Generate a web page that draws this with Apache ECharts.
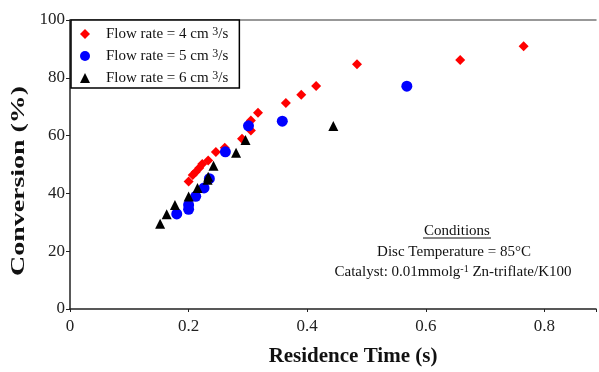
<!DOCTYPE html>
<html>
<head>
<meta charset="utf-8">
<script src="https://cdn.jsdelivr.net/npm/echarts@6/dist/echarts.min.js"></script>
<style>
  html, body { margin: 0; padding: 0; background: #fff; }
  #chart { width: 599px; height: 372px; }
</style>
</head>
<body>
<div id="chart"></div>
<script>
// data
var seriesNames = ['Flow rate = 4 cm3/s', 'Flow rate = 5 cm3/s', 'Flow rate = 6 cm3/s'];
var flowRates = ['4', '5', '6'];

// flow rate 4 (red diamonds)
var redX = [0.200, 0.207, 0.212, 0.218, 0.223, 0.233, 0.246, 0.261, 0.290, 0.305, 0.305, 0.317, 0.364, 0.390, 0.415, 0.484, 0.658, 0.765];
var redY = [44.1, 46.4, 47.4, 48.8, 50.2, 51.4, 54.3, 55.8, 58.9, 61.8, 65.2, 67.9, 71.3, 74.1, 77.2, 84.7, 86.2, 90.9];

// flow rate 5 (blue circles)
var blueX = [0.180, 0.200, 0.200, 0.212, 0.226, 0.235, 0.262, 0.301, 0.358, 0.568];
var blueY = [32.9, 36.0, 34.5, 39.0, 41.9, 45.1, 54.4, 63.4, 65.0, 77.1];

// flow rate 6 (black triangles)
var blackX = [0.152, 0.163, 0.177, 0.200, 0.215, 0.232, 0.233, 0.242, 0.280, 0.296, 0.444];
var blackY = [29.5, 32.8, 36.0, 38.9, 41.9, 44.7, 45.8, 49.6, 54.1, 58.5, 63.3];

var xTicks = [0, 0.2, 0.4, 0.6, 0.8];
var yTicks = [0, 20, 40, 60, 80, 100];

var serif = "'Liberation Serif', 'Times New Roman', serif";

function pairs (xs, ys) {
  return xs.map(function (x, i) { return [x, ys[i]]; });
}

var chart = echarts.init(document.getElementById('chart'));

var option = {
  animation: false,
  backgroundColor: '#fff',
  grid: { left: 70, right: 0, top: 20, bottom: 58 },
  legend: {
    orient: 'vertical',
    left: 71,
    top: 20,
    padding: [6, 11, 2, 9],
    itemGap: 6,
    itemWidth: 10,
    itemHeight: 10,
    borderColor: '#000',
    borderWidth: 1.5,
    backgroundColor: '#fff',
    data: seriesNames,
    formatter: function (name) {
      var i = seriesNames.indexOf(name);
      return 'Flow rate = ' + flowRates[i] + ' cm {sup|3}/s';
    },
    textStyle: {
      fontFamily: serif,
      fontSize: 15,
      color: '#111',
      lineHeight: 16,
      padding: [0, 0, 0, 11],
      rich: {
        sup: { fontFamily: serif, fontSize: 12, lineHeight: 11, verticalAlign: 'top', color: '#111' }
      }
    }
  },
  xAxis: [{
    type: 'value',
    min: 0,
    max: 0.887,
    interval: 0.2,
    name: 'Residence Time (s)',
    nameLocation: 'middle',
    nameGap: 37,
    nameTextStyle: {
      fontFamily: serif,
      fontSize: 21,
      fontWeight: 'bold',
      color: '#111',
      padding: [0, 0, 0, 40]
    },
    axisLine: { lineStyle: { color: '#222', width: 1.5 } },
    axisTick: { length: 3, lineStyle: { color: '#222' } },
    splitLine: { show: false },
    axisLabel: {
      margin: 9,
      fontFamily: serif,
      fontSize: 17,
      color: '#222',
      formatter: function (v) {
        for (var i = 0; i < xTicks.length; i++) {
          if (Math.abs(v - xTicks[i]) < 1e-6) return String(xTicks[i]);
        }
        return '';
      }
    }
  }, {
    // top border of the plot frame
    type: 'value',
    position: 'top',
    min: 0,
    max: 0.887,
    axisLine: { lineStyle: { color: '#777', width: 1.5 } },
    axisTick: { show: false },
    axisLabel: { show: false },
    splitLine: { show: false }
  }],
  yAxis: {
    type: 'value',
    min: yTicks[0],
    max: yTicks[yTicks.length - 1],
    interval: 20,
    axisLine: { show: true, lineStyle: { color: '#222', width: 1.5 } },
    axisTick: { show: true, length: 4, lineStyle: { color: '#222' } },
    splitLine: { show: false },
    axisLabel: {
      margin: 5,
      fontFamily: serif,
      fontSize: 17,
      color: '#222'
    }
  },
  graphic: [
    {
      type: 'text',
      x: 19,
      y: 181,
      rotation: Math.PI / 2,
      scaleX: 1.55,
      style: {
        text: 'Conversion (%)',
        fontFamily: serif,
        fontSize: 18,
        fontWeight: 'bold',
        fill: '#111',
        align: 'center',
        verticalAlign: 'middle'
      }
    },
    {
      type: 'text',
      x: 457,
      y: 231,
      style: {
        text: 'Conditions',
        fontFamily: serif,
        fontSize: 15,
        fill: '#111',
        align: 'center',
        verticalAlign: 'middle'
      }
    },
    {
      type: 'line',
      shape: { x1: 423, y1: 238, x2: 491, y2: 238 },
      style: { stroke: '#111', lineWidth: 1 }
    },
    {
      type: 'text',
      x: 454,
      y: 252,
      style: {
        text: 'Disc Temperature = 85°C',
        fontFamily: serif,
        fontSize: 15,
        fill: '#111',
        align: 'center',
        verticalAlign: 'middle'
      }
    },
    {
      type: 'text',
      x: 453,
      y: 272,
      style: {
        text: 'Catalyst: 0.01mmolg{sup|-1} Zn-triflate/K100',
        fontFamily: serif,
        fontSize: 15,
        fill: '#111',
        align: 'center',
        verticalAlign: 'middle',
        rich: {
          sup: { fontFamily: serif, fontSize: 10, lineHeight: 10, verticalAlign: 'top', fill: '#111' }
        }
      }
    }
  ],
  series: [
    {
      name: seriesNames[0],
      type: 'scatter',
      symbol: 'diamond',
      symbolSize: 10,
      itemStyle: { color: '#ff0000', opacity: 1 },
      data: pairs(redX, redY)
    },
    {
      name: seriesNames[1],
      type: 'scatter',
      symbol: 'circle',
      symbolSize: 11,
      itemStyle: { color: '#0000ff', opacity: 1 },
      data: pairs(blueX, blueY)
    },
    {
      name: seriesNames[2],
      type: 'scatter',
      symbol: 'triangle',
      symbolSize: 10,
      itemStyle: { color: '#000000', opacity: 1 },
      data: pairs(blackX, blackY)
    }
  ]
};

chart.setOption(option);
</script>
</body>
</html>
